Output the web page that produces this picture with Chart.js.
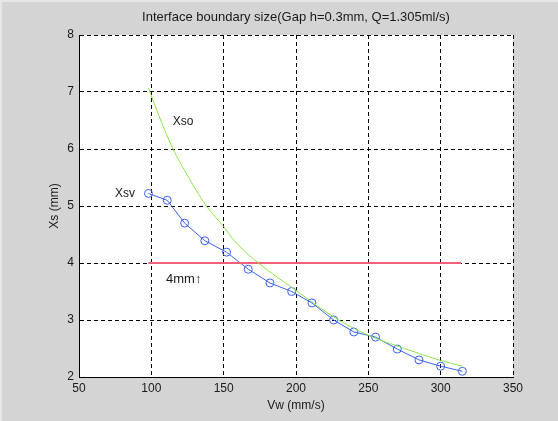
<!DOCTYPE html>
<html>
<head>
<meta charset="utf-8">
<script src="https://cdn.jsdelivr.net/npm/chart.js@4"></script>
<style>
  html, body { margin: 0; padding: 0; background: #d4d4d4; }
  #wrap { width: 558px; height: 421px; }
</style>
</head>
<body>
<div id="wrap"><canvas id="chart" width="558" height="421"></canvas></div>
<script>
// values
const xTicks = [50, 100, 150, 200, 250, 300, 350];
const yTicks = [2, 3, 4, 5, 6, 7, 8];

// Xsv (measured, blue circles)
const xsvX = [98, 111, 123, 137, 152, 167, 182, 197, 211, 226, 240, 255, 270, 285, 300, 315];
const xsvY = [5.22, 5.10, 4.70, 4.39, 4.19, 3.89, 3.65, 3.50, 3.30, 3.00, 2.79, 2.70, 2.49, 2.30, 2.19, 2.10];

// Xso (green curve)
const xsoX = [98, 105, 115, 124, 138, 150, 157, 174, 200, 225, 250, 275, 300, 315];
const xsoY = [7.07, 6.60, 6.00, 5.58, 5.00, 4.64, 4.40, 4.00, 3.52, 3.07, 2.73, 2.50, 2.29, 2.19];

// 4mm limit line
const limitX = [98, 314];
const limitY = [4, 4];

const FONT = '"Liberation Sans", Arial, sans-serif';
const TEXT = '#1a1a1a';

function pts(xs, ys) {
    return xs.map((x, i) => ({ x: x, y: ys[i] }));
}

// gray figure + white axes background, then the text labels
const figurePlugin = {
    id: 'figure',
    beforeDraw(chart) {
        const ctx = chart.ctx;
        const a = chart.chartArea;
        ctx.save();
        ctx.fillStyle = '#d4d4d4';
        ctx.fillRect(0, 0, chart.width, chart.height);
        ctx.fillStyle = '#e6e6e6';
        ctx.fillRect(0, 0, chart.width, 2);
        ctx.fillRect(0, 0, 2, chart.height);
        ctx.fillStyle = '#ffffff';
        ctx.fillRect(a.left, a.top, a.right - a.left, a.bottom - a.top);
        ctx.restore();
    },
    afterDatasetsDraw(chart) {
        const ctx = chart.ctx;
        const a = chart.chartArea;
        ctx.save();
        ctx.fillStyle = TEXT;
        ctx.textBaseline = 'middle';
        ctx.textAlign = 'center';
        ctx.font = '13px ' + FONT;
        ctx.fillText('Interface boundary size(Gap h=0.3mm, Q=1.305ml/s)', (a.left + a.right) / 2, 17);
        ctx.font = '12px ' + FONT;
        ctx.fillText('Xso', 183, 122);
        ctx.fillText('Xsv', 125, 194);
        ctx.textAlign = 'left';
        ctx.font = '13px ' + FONT;
        ctx.fillText('4mm\u2191', 166, 279);
        ctx.restore();
    }
};

const tickFont = { family: FONT, size: 12 };

new Chart(document.getElementById('chart'), {
    type: 'scatter',
    data: {
        datasets: [
            {
                label: 'Xso',
                data: pts(xsoX, xsoY),
                showLine: true,
                borderColor: '#8be84a',
                borderWidth: 1,
                pointRadius: 0,
                cubicInterpolationMode: 'monotone'
            },
            {
                label: '4mm',
                data: pts(limitX, limitY),
                showLine: true,
                borderColor: '#f06078',
                borderWidth: 2,
                pointRadius: 0
            },
            {
                label: 'Xsv',
                data: pts(xsvX, xsvY),
                showLine: true,
                borderColor: '#3a63f5',
                borderWidth: 1,
                pointRadius: 4,
                pointBorderWidth: 1,
                pointBorderColor: '#3a63f5',
                pointBackgroundColor: 'rgba(0,0,0,0)'
            }
        ]
    },
    options: {
        responsive: false,
        animation: false,
        devicePixelRatio: 1,
        layout: { padding: { top: 35, right: 45, left: 0, bottom: 0 } },
        plugins: {
            legend: { display: false },
            tooltip: { enabled: false }
        },
        scales: {
            x: {
                type: 'linear',
                min: xTicks[0],
                max: xTicks[xTicks.length - 1],
                afterFit(s) { s.height = 44; },
                afterBuildTicks(s) { s.ticks = xTicks.map(v => ({ value: v })); },
                ticks: { color: TEXT, font: tickFont, padding: 4, maxRotation: 0 },
                grid: { color: '#000', lineWidth: 1, drawTicks: false },
                border: { color: '#000', width: 1, dash: [4, 3] },
                title: {
                    display: true, text: 'Vw (mm/s)', color: TEXT,
                    font: tickFont, padding: { top: 0, bottom: 8 }
                }
            },
            y: {
                type: 'linear',
                min: yTicks[0],
                max: yTicks[yTicks.length - 1],
                afterFit(s) { s.width = 79; },
                afterBuildTicks(s) { s.ticks = yTicks.map(v => ({ value: v })); },
                ticks: { color: TEXT, font: tickFont, padding: 5 },
                grid: { color: '#000', lineWidth: 1, drawTicks: false },
                border: { color: '#000', width: 1, dash: [4, 3] },
                title: {
                    display: true, text: 'Xs (mm)', color: TEXT,
                    font: tickFont, padding: { top: 47, bottom: 0 }
                }
            }
        }
    },
    plugins: [figurePlugin]
});
</script>
</body>
</html>
